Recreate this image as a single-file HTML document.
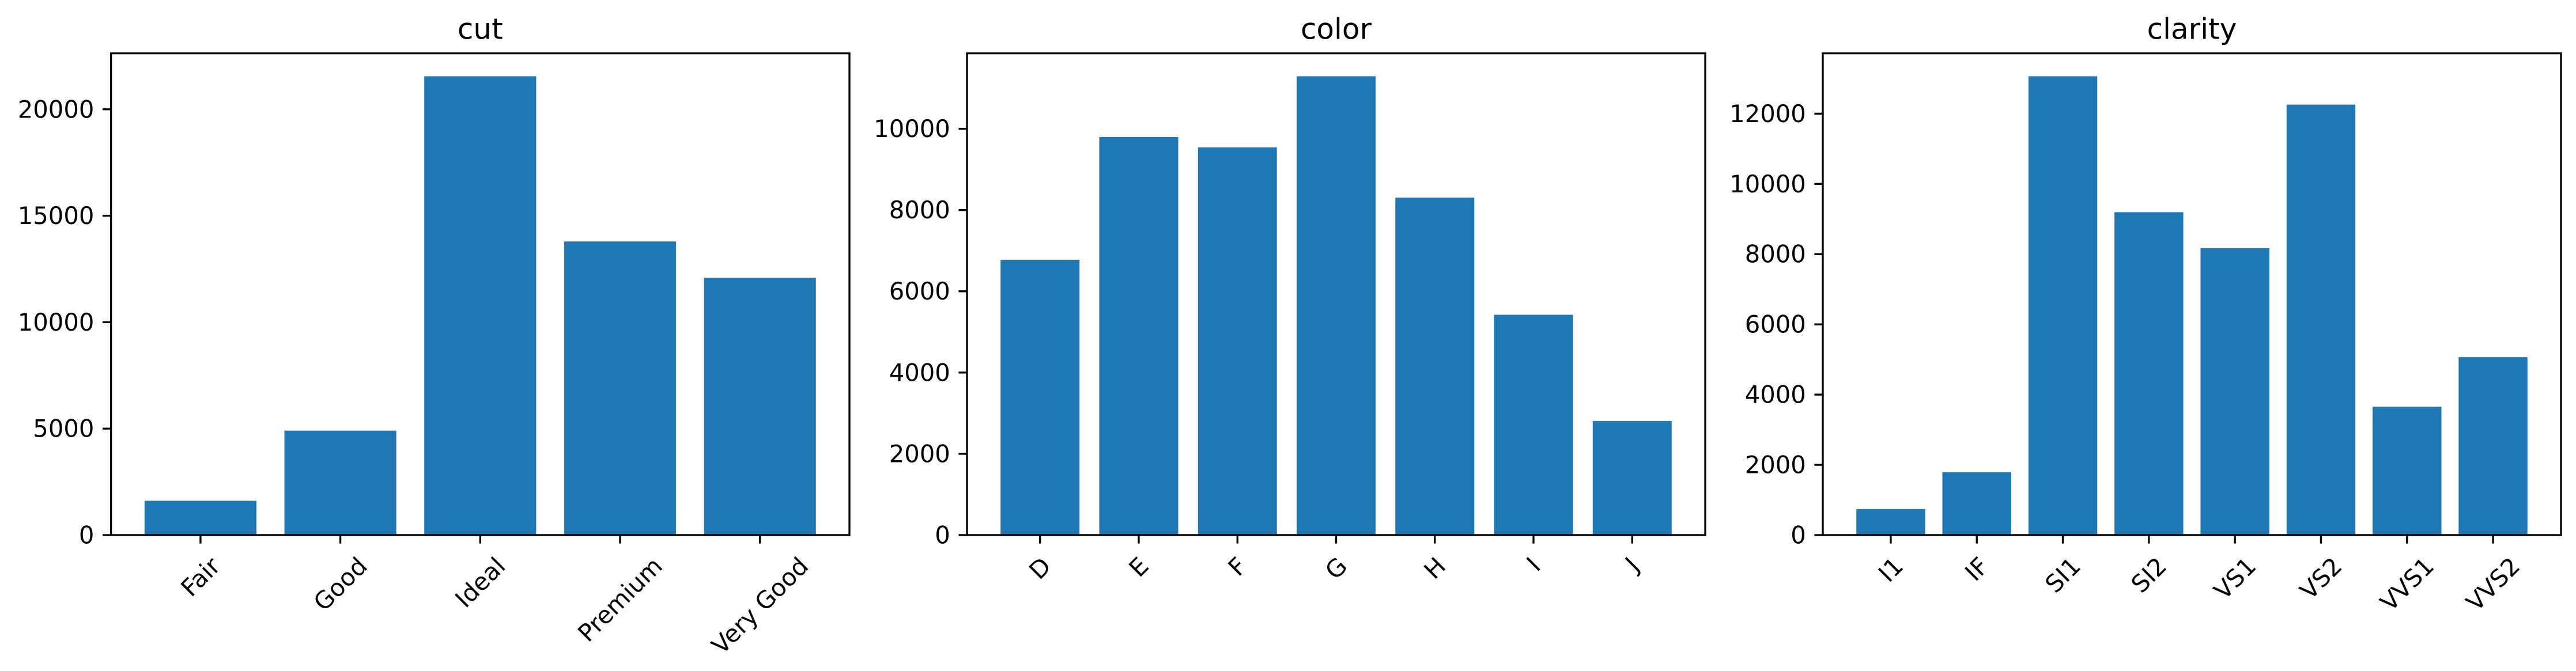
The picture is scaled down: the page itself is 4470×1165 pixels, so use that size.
<!DOCTYPE html>
<html><head><meta charset="utf-8">
<style>
html,body{margin:0;padding:0;background:#fff;}
svg{display:block;}
text{font-family:"DejaVu Sans","Liberation Sans",sans-serif;fill:#000;}
</style></head>
<body>
<svg id="fig" width="4470" height="1165" viewBox="0 0 4470 1165" xmlns="http://www.w3.org/2000/svg"></svg>
<script>
const cutCategories = ["Fair","Good","Ideal","Premium","Very Good"];
const cutValues = [1610,4906,21551,13791,12082];
const cutTicks = [0,5000,10000,15000,20000];
const colorCategories = ["D","E","F","G","H","I","J"];
const colorValues = [6775,9797,9542,11292,8304,5422,2808];
const colorTicks = [0,2000,4000,6000,8000,10000];
const clarityCategories = ["I1","IF","SI1","SI2","VS1","VS2","VVS1","VVS2"];
const clarityValues = [741,1790,13065,9194,8171,12258,3655,5066];
const clarityTicks = [0,2000,4000,6000,8000,10000,12000];

const NS = "http://www.w3.org/2000/svg";
const svg = document.getElementById("fig");
const FS = 41.7, TICK = 14.6, PAD = 14.6, LW = 3.33;
const TOP = 92.6, BOTTOM = 929;

function mk(tag, attrs, parent) {
  const e = document.createElementNS(NS, tag);
  for (const k in attrs) e.setAttribute(k, attrs[k]);
  (parent || svg).appendChild(e);
  return e;
}

function panel(name, left, right, cats, vals, ticks) {
  const g = mk("g", {});
  
  
  const n = cats.length;
  const span = n - 0.2, m = 0.05 * span;
  const x0 = -0.4 - m, x1 = n - 0.6 + m;
  const ymax = Math.max(...vals) * 1.05;
  const xs = v => left + (v - x0) / (x1 - x0) * (right - left);
  const ys = v => BOTTOM - v / ymax * (BOTTOM - TOP);

  vals.forEach((v, i) => {
    const r = mk("rect", {x: xs(i - 0.4), y: ys(v), width: xs(i + 0.4) - xs(i - 0.4), height: BOTTOM - ys(v), fill: "#1f77b4"}, g);
    
    
  });

  const frame = mk("rect", {x: left, y: TOP, width: right - left, height: BOTTOM - TOP, fill: "none", stroke: "#000", "stroke-width": LW}, g);
  
  

  ticks.forEach(t => {
    const y = ys(t);
    mk("line", {x1: left - TICK, x2: left, y1: y, y2: y, stroke: "#000", "stroke-width": LW}, g);
    const tx = mk("text", {x: left - TICK - PAD, y: y, "font-size": FS, "text-anchor": "end", "dominant-baseline": "central"}, g);
    tx.textContent = t;
    
    
  });

  cats.forEach((c, i) => {
    const x = xs(i);
    mk("line", {x1: x, x2: x, y1: BOTTOM, y2: BOTTOM + TICK, stroke: "#000", "stroke-width": LW}, g);
    const tx = mk("text", {x: x, y: 0, "font-size": FS, "text-anchor": "middle", "dominant-baseline": "central"}, g);
    tx.textContent = c;
    
    
    const w = tx.getComputedTextLength();
    const h = FS * 1.16;
    const cy = BOTTOM + TICK + PAD + (w + h) / (2 * Math.SQRT2);
    tx.setAttribute("y", cy);
    tx.setAttribute("transform", "rotate(-45 " + x + " " + cy + ")");
  });

  const title = mk("text", {x: (left + right) / 2, y: TOP - 25, "font-size": 50, "text-anchor": "middle"}, g);
  title.textContent = name;
  
  
}

panel("cut", 192.6, 1474, cutCategories, cutValues, cutTicks);
panel("color", 1678, 2959, colorCategories, colorValues, colorTicks);
panel("clarity", 3163, 4444, clarityCategories, clarityValues, clarityTicks);
</script>
</body></html>
